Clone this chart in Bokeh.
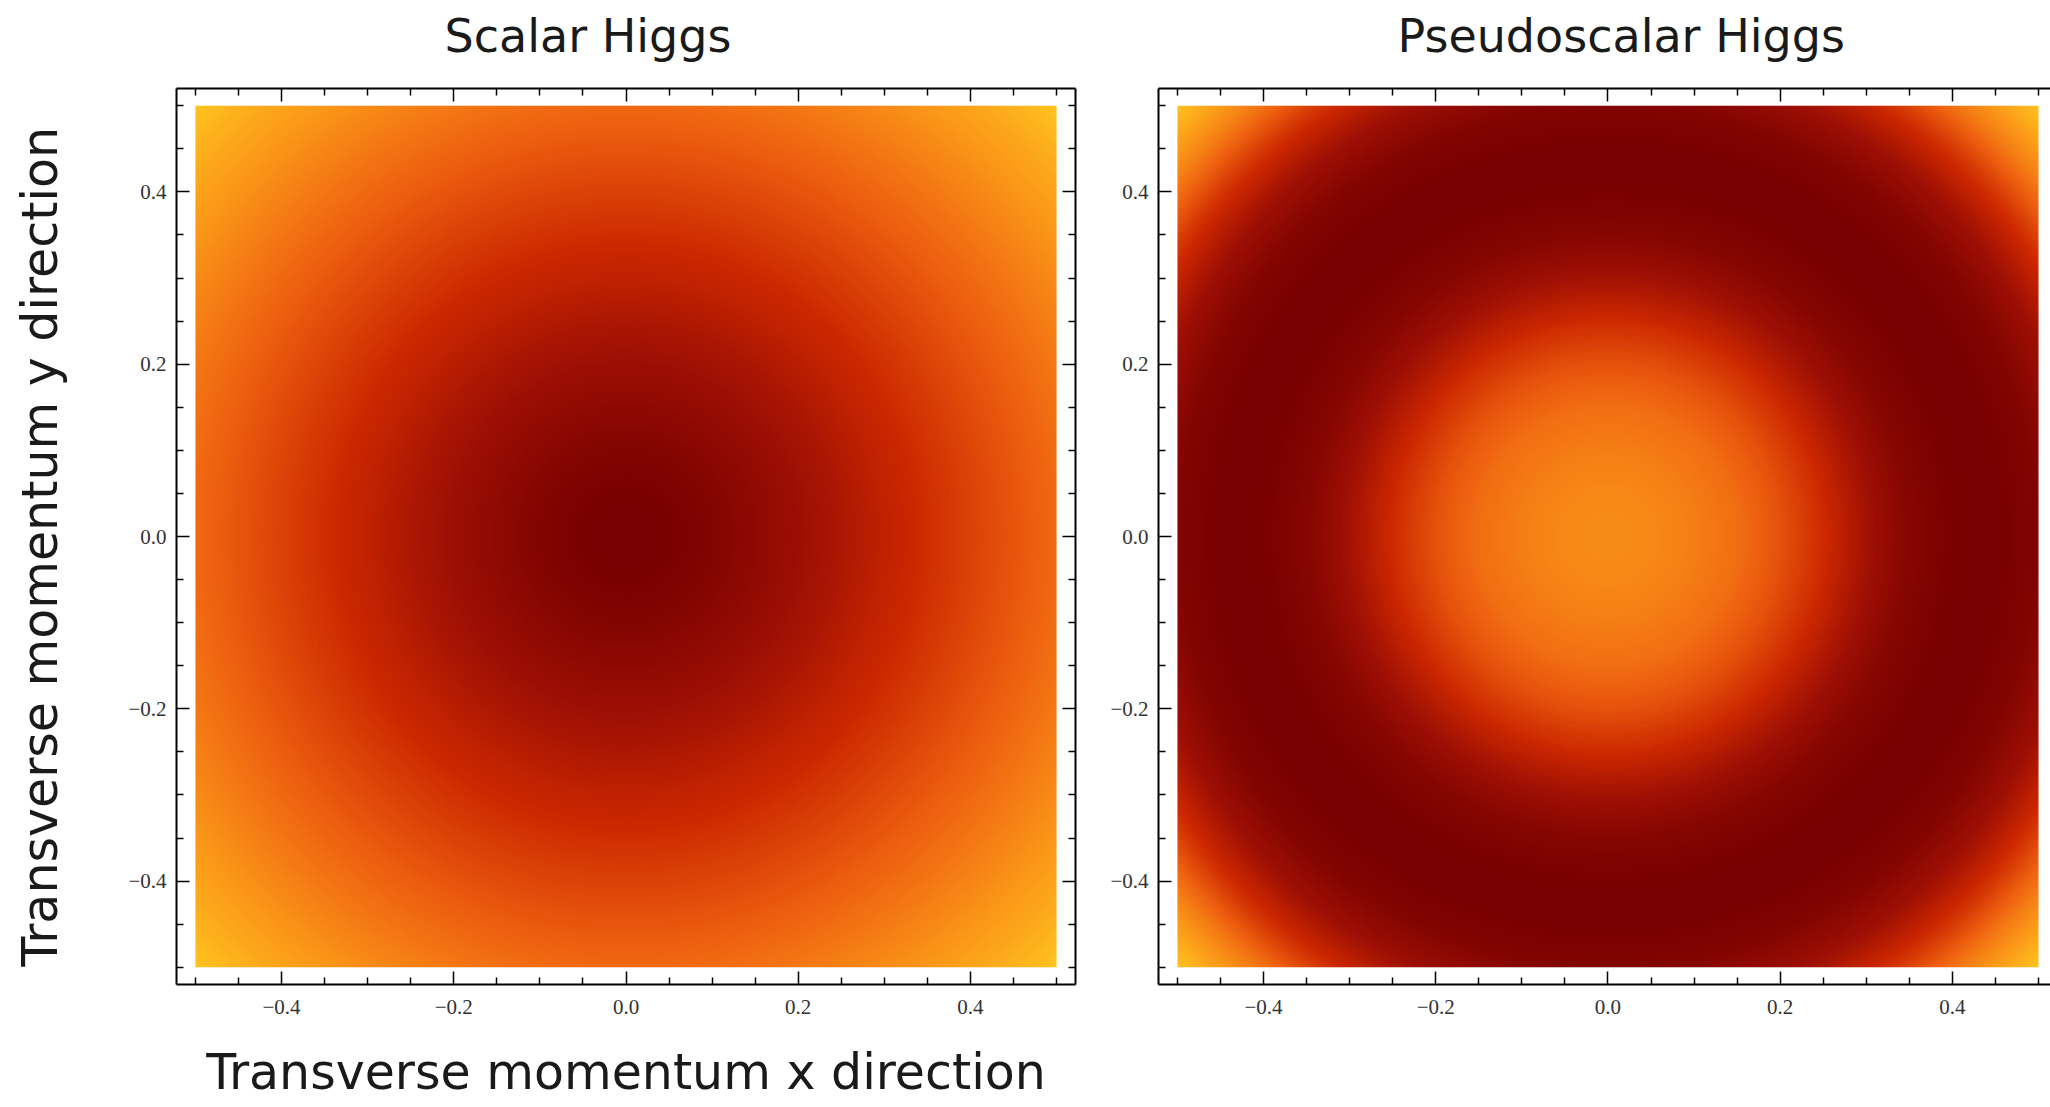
import numpy as np
from bokeh.plotting import figure
from bokeh.models import LinearColorMapper, FixedTicker, LinearAxis, Range1d, Title
from bokeh.layouts import row
from bokeh.embed import file_html
from bokeh.resources import INLINE

# ---------------- data ----------------
# radial profiles (distance from the origin) of the plotted density, normalised 0..1
radius = [0.00, 0.05, 0.10, 0.15, 0.20, 0.25, 0.30, 0.35, 0.40, 0.45,
          0.50, 0.55, 0.60, 0.65, 0.70, 0.71]
scalar_level = [0.00, 0.01, 0.06, 0.13, 0.20, 0.27, 0.35, 0.42, 0.49, 0.56,
                0.63, 0.71, 0.79, 0.87, 0.97, 1.00]
pseudo_level = [0.76, 0.75, 0.71, 0.65, 0.55, 0.41, 0.23, 0.08, 0.01, 0.00,
                0.06, 0.22, 0.45, 0.72, 0.95, 1.00]

titles = ["Scalar Higgs", "Pseudoscalar Higgs"]
x_label = "Transverse momentum x direction"
y_label = "Transverse momentum y direction"

major_ticks = [-0.4, -0.2, 0.0, 0.2, 0.4]
minor_ticks = [-0.5, -0.45, -0.35, -0.3, -0.25, -0.15, -0.1, -0.05,
               0.05, 0.1, 0.15, 0.25, 0.3, 0.35, 0.45, 0.5]
tick_labels = ["\u22120.4", "\u22120.2", "0.0", "0.2", "0.4"]

# colour scheme anchors (dark red -> red -> orange -> yellow)
scheme_pos = [0.0, 0.2, 0.4, 0.6, 0.8, 1.0]
scheme_rgb = [(0x78, 0x00, 0x00), (0x9c, 0x0e, 0x04), (0xcc, 0x28, 0x00),
              (0xee, 0x60, 0x10), (0xfb, 0x96, 0x18), (0xff, 0xc8, 0x20)]

# ---------------- build ----------------
ts = np.linspace(0, 1, 256)
cols = np.array(scheme_rgb, dtype=float)
palette = ["#%02x%02x%02x" % tuple(int(round(np.interp(t, scheme_pos, cols[:, k]))) for k in range(3))
           for t in ts]
mapper = LinearColorMapper(palette=palette, low=0, high=1)

N = 500
g = (np.arange(N) + 0.5) / N - 0.5
X, Y = np.meshgrid(g, g)
R = np.sqrt(X ** 2 + Y ** 2)
img_scalar = np.interp(R, radius, scalar_level).astype(np.float32)
img_pseudo = np.interp(R, radius, pseudo_level).astype(np.float32)

overrides = {t: s for t, s in zip(major_ticks, tick_labels)}


def style_axis(ax, labels, standoff=10):
    ax.ticker = FixedTicker(ticks=major_ticks, minor_ticks=minor_ticks)
    ax.major_tick_in = 13
    ax.major_tick_out = 0
    ax.minor_tick_in = 7
    ax.minor_tick_out = 0
    ax.major_tick_line_width = 1.5
    ax.minor_tick_line_width = 1.5
    ax.major_tick_line_color = "black"
    ax.minor_tick_line_color = "black"
    ax.axis_line_width = 2
    ax.axis_line_color = "black"
    if labels:
        ax.major_label_overrides = overrides
        ax.major_label_text_font = "Liberation Serif"
        ax.major_label_text_font_size = "21px"
        ax.major_label_text_color = "#333333"
        ax.major_label_standoff = standoff
    else:
        ax.major_label_text_color = None
        ax.major_label_standoff = 0


def spacer_axis(extent):
    # invisible axis used only to reserve space between the frame and a title
    ax = LinearAxis(ticker=FixedTicker(ticks=[0.0], minor_ticks=[]))
    ax.major_tick_out = extent
    ax.major_tick_in = 0
    ax.minor_tick_out = 0
    ax.minor_tick_in = 0
    ax.major_tick_line_color = None
    ax.minor_tick_line_color = None
    ax.axis_line_color = None
    ax.major_label_text_color = None
    ax.major_label_standoff = 0
    return ax


def make_fig(img, title, fw, xr_end, left_border, right_border, title_offset, with_right):
    p = figure(frame_width=fw, frame_height=896,
               x_range=Range1d(-0.522, xr_end), y_range=Range1d(-0.52, 0.52),
               toolbar_location=None, output_backend="svg",
               min_border_left=left_border, min_border_right=right_border,
               min_border_top=88, min_border_bottom=123)
    p.grid.visible = False
    p.outline_line_color = None
    p.background_fill_color = "white"
    p.image(image=[img], x=-0.5, y=-0.5, dw=1.0, dh=1.0, color_mapper=mapper)
    bottom = p.below[0]
    left = p.left[0]
    style_axis(bottom, True, standoff=15)
    style_axis(left, True, standoff=10)
    top = LinearAxis()
    style_axis(top, False)
    p.add_layout(top, "above")
    p.add_layout(spacer_axis(21), "above")
    if with_right:
        right = LinearAxis()
        style_axis(right, False)
        p.add_layout(right, "right")
    p.title.text = title
    p.title.text_font = "DejaVu Sans"
    p.title.text_font_size = "46px"
    p.title.text_font_style = "normal"
    p.title.text_color = "#1a1a1a"
    p.title.align = "left"
    p.title.offset = title_offset
    p.title.standoff = 10
    return p, bottom, left


p1, b1, l1 = make_fig(img_scalar, titles[0], 899, 0.522, 176, 20, 268, True)
b1.axis_label = x_label
b1.axis_label_text_font = "DejaVu Sans"
b1.axis_label_text_font_size = "49px"
b1.axis_label_text_font_style = "normal"
b1.axis_label_text_color = "#1a1a1a"
b1.axis_label_standoff = 27

p1.add_layout(spacer_axis(56), "left")
ytitle = Title(text=y_label, align="left", offset=18, standoff=2,
               text_font="DejaVu Sans", text_font_size="49px",
               text_font_style="normal", text_color="#1a1a1a")
p1.add_layout(ytitle, "left")

p2, b2, l2 = make_fig(img_pseudo, titles[1], 892, 0.5139, 63, 0, 239, False)

layout = row(p1, p2)
open("out.html", "w").write(file_html(layout, INLINE))
